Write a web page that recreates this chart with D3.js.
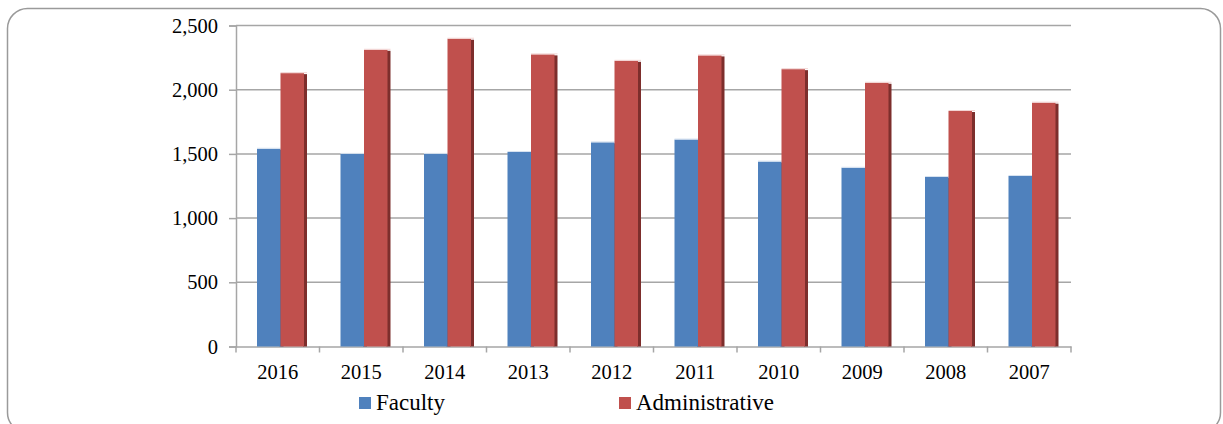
<!DOCTYPE html>
<html>
<head>
<meta charset="utf-8">
<script src="https://cdn.jsdelivr.net/npm/d3@7"></script>
<style>
    body { margin: 0; background: #fff; }
    svg text { font-family: "Liberation Serif", "Times New Roman", serif; fill: #000; }
</style>
</head>
<body>
<div id="staff-chart"></div>
<script>

// Chart data

var years = [ "2016", "2015", "2014", "2013", "2012", "2011", "2010", "2009", "2008", "2007" ];
var faculty = [ 1540, 1500, 1500, 1515, 1590, 1612, 1440, 1392, 1320, 1328 ];
var administrative = [ 2129, 2311, 2397, 2275, 2225, 2267, 2160, 2054, 1834, 1899 ];
var seriesNames = [ "Faculty", "Administrative" ];
var yTicks = [ 0, 500, 1000, 1500, 2000, 2500 ];

var colors = { "Faculty": "#4f81bd", "Administrative": "#c0504d" };
var sides = { "Faculty": "#385d8a", "Administrative": "#7d2e2c" };

var svg = d3.select("#staff-chart").append("svg")
    .attr("width", 1223)
    .attr("height", 424);

// Rounded frame

svg.append("rect")
    .attr("x", 7.5)
    .attr("y", 8.5)
    .attr("width", 1213)
    .attr("height", 424)
    .attr("rx", 20)
    .attr("ry", 20)
    .style("fill", "none")
    .style("stroke", "#9a9a9a")
    .style("stroke-width", 1.5);

// Scales

var x0 = d3.scaleBand()
    .domain(years)
    .range([ 236, 1071 ]);

var x1 = d3.scaleBand()
    .domain(seriesNames)
    .range([ 21, 68 ]);

var y = d3.scaleLinear()
    .domain([ 0, 2500 ])
    .range([ 346.5, 25.5 ]);

// Gridlines

svg.append("g")
    .selectAll("line")
    .data(yTicks.slice(1))
    .enter().append("line")
    .attr("x1", 236)
    .attr("x2", 1071)
    .attr("y1", function ( d ) { return y(d); })
    .attr("y2", function ( d ) { return y(d); })
    .style("stroke", "#a6a6a6")
    .style("stroke-width", 1.5);

// Axes

var yAxis = svg.append("g")
    .attr("transform", "translate(236,0)")
    .call(d3.axisLeft(y).tickValues(yTicks).tickSize(7).tickPadding(11).tickFormat(d3.format(",")));

var xAxis = svg.append("g")
    .attr("transform", "translate(0,346.5)")
    .call(d3.axisBottom(x0).tickSize(0).tickPadding(18));

xAxis.selectAll(".tick")
    .append("line")
    .attr("x1", -x0.bandwidth() / 2)
    .attr("x2", -x0.bandwidth() / 2)
    .attr("y2", 6)
    .style("stroke", "#a6a6a6")
    .style("stroke-width", 1.5);

svg.append("line")
    .attr("x1", 1071)
    .attr("x2", 1071)
    .attr("y1", 346.5)
    .attr("y2", 352.5)
    .style("stroke", "#a6a6a6")
    .style("stroke-width", 1.5);

[ yAxis, xAxis ].forEach(function ( axis ) {
    axis.select(".domain").style("stroke", "#a6a6a6").style("stroke-width", 1.5);
    axis.selectAll(".tick line").style("stroke", "#a6a6a6").style("stroke-width", 1.5);
    axis.selectAll("text")
        .style("font-family", "'Liberation Serif', 'Times New Roman', serif")
        .style("font-size", "20.5px")
        .style("fill", "#000");
});

// Bars

var rows = years.map(function ( yr, i ) {
    return { year: yr, values: [
        { name: "Faculty", value: faculty[i] },
        { name: "Administrative", value: administrative[i] }
    ] };
});

var groups = svg.append("g")
    .selectAll("g")
    .data(rows)
    .enter().append("g")
    .attr("transform", function ( d ) { return "translate(" + x0(d.year) + ",0)"; });

var bars = groups.selectAll("g")
    .data(function ( d ) { return d.values; })
    .enter().append("g");

// dark side of the pseudo 3D bar
bars.append("rect")
    .attr("x", function ( d ) { return x1(d.name) + x1.bandwidth() - 1; })
    .attr("y", function ( d ) { return y(d.value) + 1; })
    .attr("width", 4)
    .attr("height", function ( d ) { return y(0) - y(d.value) - 1; })
    .style("fill", function ( d ) { return sides[d.name]; });

bars.append("rect")
    .attr("x", function ( d ) { return x1(d.name); })
    .attr("y", function ( d ) { return y(d.value); })
    .attr("width", x1.bandwidth())
    .attr("height", function ( d ) { return y(0) - y(d.value); })
    .style("fill", function ( d ) { return colors[d.name]; });

// light top edge
bars.append("line")
    .attr("x1", function ( d ) { return x1(d.name); })
    .attr("x2", function ( d ) { return x1(d.name) + x1.bandwidth() + 3; })
    .attr("y1", function ( d ) { return y(d.value) - 0.5; })
    .attr("y2", function ( d ) { return y(d.value) - 0.5; })
    .style("stroke", function ( d ) { return d.name === "Administrative" ? "#f2d4d3" : "#d6e2f0"; })
    .style("stroke-width", 1);

// Legend

var legend = svg.append("g")
    .selectAll("g")
    .data(seriesNames)
    .enter().append("g")
    .attr("transform", function ( d, i ) { return "translate(" + (359 + i * 260) + ",397)"; });

legend.append("rect")
    .attr("width", 12)
    .attr("height", 12)
    .style("fill", function ( d ) { return colors[d]; });

legend.append("text")
    .attr("x", 17)
    .attr("y", 13)
    .style("font-size", "23px")
    .text(function ( d ) { return d; });

</script>
</body>
</html>
